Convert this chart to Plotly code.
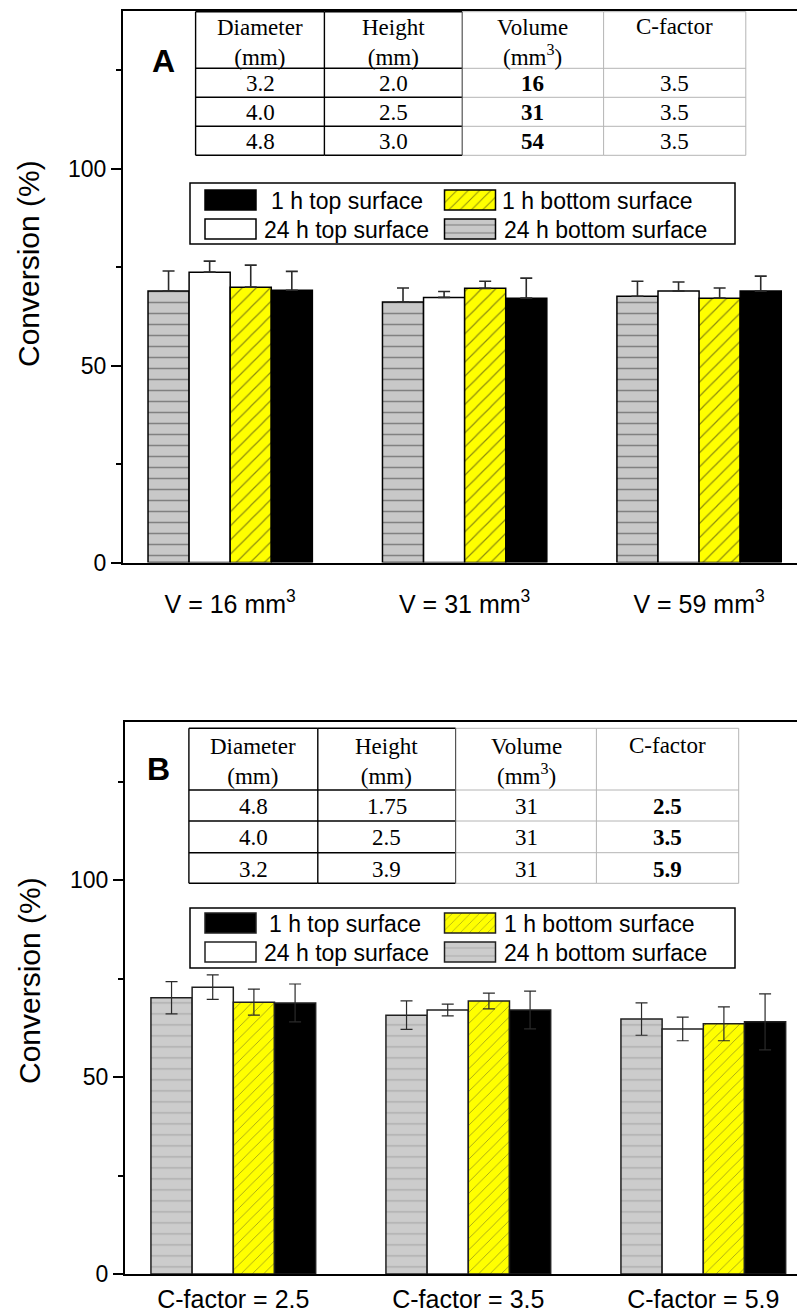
import plotly.graph_objects as go

# ---------------- data ----------------
groups_a = ["V = 16 mm<sup>3</sup>", "V = 31 mm<sup>3</sup>", "V = 59 mm<sup>3</sup>"]
groups_b = ["C-factor = 2.5", "C-factor = 3.5", "C-factor = 5.9"]

series_names = ["24 h bottom surface", "24 h top surface", "1 h bottom surface", "1 h top surface"]

a_24h_bottom = [68.9, 66.1, 67.6]
a_24h_bottom_err = [5.1, 3.6, 3.8]
a_24h_top = [73.7, 67.3, 68.9]
a_24h_top_err = [2.8, 1.5, 2.3]
a_1h_bottom = [69.9, 69.6, 67.1]
a_1h_bottom_err = [5.6, 1.8, 2.6]
a_1h_top = [69.1, 67.1, 68.9]
a_1h_top_err = [4.8, 5.1, 3.8]

b_24h_bottom = [70.1, 65.7, 64.7]
b_24h_bottom_err = [4.1, 3.6, 4.1]
b_24h_top = [72.8, 67.0, 62.2]
b_24h_top_err = [3.1, 1.5, 3.0]
b_1h_bottom = [69.0, 69.3, 63.5]
b_1h_bottom_err = [3.3, 2.0, 4.3]
b_1h_top = [68.8, 67.0, 64.0]
b_1h_top_err = [4.8, 4.8, 7.1]

table_headers = ["Diameter<br>(mm)", "Height<br>(mm)", "Volume<br>(mm<sup>3</sup>)", "C-factor"]
a_diameter = ["3.2", "4.0", "4.8"]
a_height = ["2.0", "2.5", "3.0"]
a_volume = ["16", "31", "54"]
a_cfactor = ["3.5", "3.5", "3.5"]
b_diameter = ["4.8", "4.0", "3.2"]
b_height = ["1.75", "2.5", "3.9"]
b_volume = ["31", "31", "31"]
b_cfactor = ["2.5", "3.5", "5.9"]

# ---------------- geometry helpers ----------------
W, H = 797, 1313
ML = 123
PW = W - ML


def px_x(px):
    return (px - ML) / PW


def px_y(py):
    return 1 - py / H


SANS = "Liberation Sans, Arial, sans-serif"
SERIF = "Liberation Serif, Times New Roman, serif"

styles_a = {
    "24 h bottom surface": dict(color="#c8c8c8", pattern=dict(shape="-", fgcolor="#3a3a3a", bgcolor="#c8c8c8",
                                                              size=11, solidity=0.14, fillmode="overlay")),
    "24 h top surface": dict(color="white"),
    "1 h bottom surface": dict(color="#ffff00", pattern=dict(shape="/", fgcolor="#1a1a1a", bgcolor="#ffff00",
                                                             size=10, solidity=0.12, fillmode="overlay")),
    "1 h top surface": dict(color="black"),
}
styles_b = {
    "24 h bottom surface": dict(color="#cccccc", pattern=dict(shape="-", fgcolor="#8a8a8a", bgcolor="#cccccc",
                                                              size=11, solidity=0.12, fillmode="overlay")),
    "24 h top surface": dict(color="white"),
    "1 h bottom surface": dict(color="#ffff00", pattern=dict(shape="/", fgcolor="#333333", bgcolor="#ffff00",
                                                             size=8, solidity=0.1, fillmode="overlay")),
    "1 h top surface": dict(color="black"),
}

a_vals = [a_24h_bottom, a_24h_top, a_1h_bottom, a_1h_top]
a_errs = [a_24h_bottom_err, a_24h_top_err, a_1h_bottom_err, a_1h_top_err]
b_vals = [b_24h_bottom, b_24h_top, b_1h_bottom, b_1h_top]
b_errs = [b_24h_bottom_err, b_24h_top_err, b_1h_bottom_err, b_1h_top_err]

legend_a = {"1 h top surface": "legend", "1 h bottom surface": "legend2",
            "24 h top surface": "legend3", "24 h bottom surface": "legend4"}
legend_b = {"1 h top surface": "legend5", "1 h bottom surface": "legend6",
            "24 h top surface": "legend7", "24 h bottom surface": "legend8"}

fig = go.Figure()

for name, vals, errs in zip(series_names, a_vals, a_errs):
    fig.add_trace(go.Bar(
        x=groups_a, y=vals, name=name, xaxis="x", yaxis="y",
        marker=dict(**styles_a[name], line=dict(color="black", width=1.5)),
        error_y=dict(type="data", array=errs, arrayminus=[0] * len(errs), symmetric=False,
                     color="#2a2a2a", thickness=1.6, width=6),
        legend=legend_a[name], showlegend=True,
    ))

for name, vals, errs in zip(series_names, b_vals, b_errs):
    fig.add_trace(go.Bar(
        x=groups_b, y=vals, name=name, xaxis="x2", yaxis="y2",
        marker=dict(**styles_b[name], line=dict(color="#202020", width=1.5)),
        error_y=dict(type="data", array=errs, symmetric=True,
                     color="#2a2a2a", thickness=1.2, width=6),
        legend=legend_b[name], showlegend=True,
    ))

# ---------------- inset tables (lines + text) ----------------
shapes = []
annotations = []

seg_colors = ["black", "black", "#b4b4b4", "#b4b4b4"]
seg_widths = [1.4, 1.4, 1, 1]
vert_colors = ["black", "black", "#555555", "#b4b4b4", "#b4b4b4"]
vert_widths = [1.4, 1.4, 1.2, 1, 1]
TFONT = 23


def draw_table(col_edges, row_edges, headers, columns, head_line1_y, head_mid_y):
    for ry in row_edges:
        for c in range(len(col_edges) - 1):
            shapes.append(dict(type="line", xref="paper", yref="paper",
                               x0=px_x(col_edges[c]), x1=px_x(col_edges[c + 1]),
                               y0=px_y(ry), y1=px_y(ry),
                               line=dict(color=seg_colors[c], width=seg_widths[c])))
    for i, cx in enumerate(col_edges):
        shapes.append(dict(type="line", xref="paper", yref="paper",
                           x0=px_x(cx), x1=px_x(cx), y0=px_y(row_edges[0]), y1=px_y(row_edges[-1]),
                           line=dict(color=vert_colors[i], width=vert_widths[i])))
    for c, htxt in enumerate(headers):
        cxm = (col_edges[c] + col_edges[c + 1]) / 2
        ypos = head_mid_y if "<br>" in htxt else head_line1_y
        annotations.append(dict(text=htxt, xref="paper", yref="paper", x=px_x(cxm), y=px_y(ypos),
                                xanchor="center", yanchor="middle", showarrow=False,
                                font=dict(family=SERIF, size=TFONT, color="black")))
    for c, col in enumerate(columns):
        cxm = (col_edges[c] + col_edges[c + 1]) / 2
        for r, val in enumerate(col):
            rym = (row_edges[r + 1] + row_edges[r + 2]) / 2
            annotations.append(dict(text=val, xref="paper", yref="paper", x=px_x(cxm), y=px_y(rym + 1),
                                    xanchor="center", yanchor="middle", showarrow=False,
                                    font=dict(family=SERIF, size=TFONT, color="black")))


draw_table([195.6, 324.4, 462.2, 603.6, 745.8], [11.7, 68.3, 97.3, 126.3, 155.3], table_headers,
           [a_diameter, a_height, ["<b>%s</b>" % v for v in a_volume], a_cfactor],
           head_line1_y=27, head_mid_y=42)
draw_table([188.9, 317.8, 455.6, 596.4, 738.7], [728.3, 790, 821, 852.7, 883.3], table_headers,
           [b_diameter, b_height, b_volume, ["<b>%s</b>" % v for v in b_cfactor]],
           head_line1_y=745, head_mid_y=761)

# legend frames
shapes.append(dict(type="rect", xref="paper", yref="paper", x0=px_x(190), x1=px_x(735), y0=px_y(244),
                   y1=px_y(183), line=dict(color="black", width=1.5)))
shapes.append(dict(type="rect", xref="paper", yref="paper", x0=px_x(190), x1=px_x(735), y0=px_y(968),
                   y1=px_y(908), line=dict(color="black", width=1.5)))

# panel letters and axis titles
annotations += [
    dict(text="<b>A</b>", xref="paper", yref="paper", x=px_x(163), y=px_y(61), showarrow=False,
         xanchor="center", yanchor="middle", font=dict(family=SANS, size=32, color="black")),
    dict(text="<b>B</b>", xref="paper", yref="paper", x=px_x(158), y=px_y(769), showarrow=False,
         xanchor="center", yanchor="middle", font=dict(family=SANS, size=32, color="black")),
    dict(text="Conversion (%)", xref="paper", yref="paper", x=px_x(29), y=px_y(263), textangle=-90,
         showarrow=False, xanchor="center", yanchor="middle", font=dict(family=SANS, size=30, color="black")),
    dict(text="Conversion (%)", xref="paper", yref="paper", x=px_x(29), y=px_y(980), textangle=-90,
         showarrow=False, xanchor="center", yanchor="middle", font=dict(family=SANS, size=30, color="black")),
]

# ---------------- axes ----------------
common_x = dict(type="category", showline=True, linecolor="black", linewidth=2, mirror=True,
                ticks="", showgrid=False, zeroline=False, automargin=False,
                tickfont=dict(family=SANS, size=25, color="black"))
common_y = dict(range=[0, 140], tickmode="linear", tick0=0, dtick=50,
                ticks="outside", ticklen=10, tickwidth=2, tickcolor="black",
                minor=dict(dtick=25, ticks="outside", ticklen=5, tickwidth=1.5, tickcolor="black"),
                showline=True, linecolor="black", linewidth=2, showgrid=False, zeroline=False,
                automargin=False, tickfont=dict(family=SANS, size=23, color="black"))

fig.update_layout(
    xaxis=dict(domain=[0, 1], anchor="y", range=[-0.4572, 2.4176], ticklabelstandoff=18, **common_x),
    yaxis=dict(domain=[px_y(562.5), px_y(11)], anchor="x", **common_y),
    xaxis2=dict(domain=[px_x(125), 1], anchor="y2", range=[-0.4609, 2.3987], ticklabelstandoff=2, **common_x),
    yaxis2=dict(domain=[px_y(1274), px_y(722.4)], anchor="x2", **common_y),
)


def leg(px, py, iw):
    return dict(x=px_x(px), y=px_y(py), xanchor="left", yanchor="middle", itemwidth=iw,
                font=dict(family=SANS, size=23, color="black"), bgcolor="rgba(0,0,0,0)",
                borderwidth=0, orientation="v", tracegroupgap=0)


fig.update_layout(
    width=W, height=H, margin=dict(l=ML, r=0, t=0, b=0, autoexpand=False),
    paper_bgcolor="white", plot_bgcolor="white",
    barmode="group", bargap=0.299, bargroupgap=0,
    font=dict(family=SANS, color="black"),
    legend=leg(190, 200, 71), legend2=leg(438, 200, 54),
    legend3=leg(197, 229, 57), legend4=leg(436, 229, 58),
    legend5=leg(192, 923, 67), legend6=leg(436, 923, 58),
    legend7=leg(197, 952, 57), legend8=leg(436, 952, 58),
    shapes=shapes,
    annotations=annotations,
)

post = """
document.documentElement.style.margin = '0px';
document.body.style.margin = '0px';
document.body.style.padding = '0px';
function fixSwatches(){
  var ps = document.querySelectorAll('g.legendpoints path');
  for (var i = 0; i < ps.length; i++) { ps[i].setAttribute('d','M25.5,10H-25.5V-10H25.5Z'); }
}
fixSwatches();
var gdd = document.getElementById('{plot_id}');
if (gdd && gdd.on) { gdd.on('plotly_afterplot', fixSwatches); }
[0, 30, 100, 300, 800].forEach(function(t){ setTimeout(fixSwatches, t); });
"""

fig.write_html("out.html", post_script=post, config={"displayModeBar": False})
